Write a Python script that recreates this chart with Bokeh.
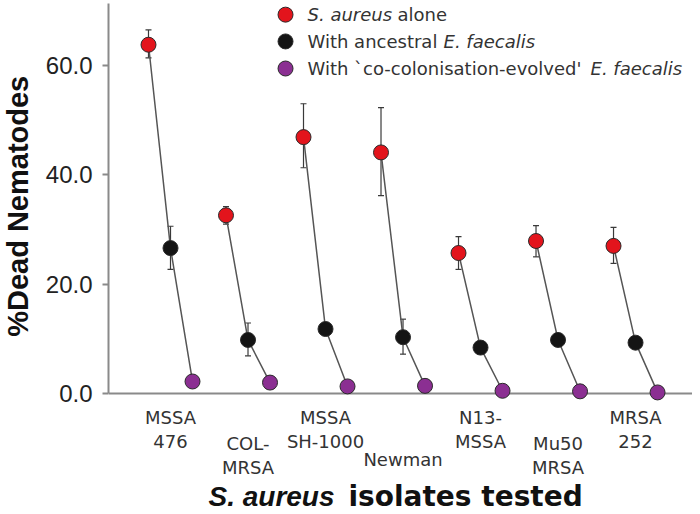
import math
from bokeh.plotting import figure
from bokeh.layouts import row
from bokeh.models import (Range1d, FixedTicker, NumeralTickFormatter, Label,
                          Whisker, TeeHead, ColumnDataSource, Span)
from bokeh.embed import file_html
from bokeh.resources import INLINE
from bokeh.core.properties import value

# ---------------- data ----------------
isolates = ["MSSA 476", "COL-MRSA", "MSSA SH-1000", "Newman",
            "N13-MSSA", "Mu50 MRSA", "MRSA 252"]
tick_labels = ["MSSA\n476", "COL-\nMRSA", "MSSA\nSH-1000", "Newman",
               "N13-\nMSSA", "Mu50\nMRSA", "MRSA\n252"]
label_tier = [0, 1, 0, 2, 0, 1, 0]

alone = [63.8, 32.6, 46.9, 44.1, 25.7, 27.9, 27.0]
alone_hi = [66.5, 34.2, 53.0, 52.3, 28.7, 30.7, 30.4]
alone_lo = [61.4, 31.0, 41.3, 36.2, 22.7, 25.0, 23.8]

ancestral = [26.6, 9.8, 11.8, 10.3, 8.4, 9.8, 9.3]
ancestral_hi = [30.6, 12.9, 12.3, 13.6, 8.8, 10.2, 9.7]
ancestral_lo = [22.7, 6.9, 11.3, 7.2, 8.0, 9.4, 8.9]

evolved = [2.2, 2.0, 1.3, 1.4, 0.5, 0.4, 0.2]
evolved_hi = [2.5, 2.3, 1.6, 1.7, 0.8, 0.7, 0.5]
evolved_lo = [1.9, 1.7, 1.0, 1.1, 0.2, 0.1, 0.0]

y_ticks = [0, 20, 40, 60]

series = [
    ("alone", alone, alone_hi, alone_lo, "#e3141c", -0.284),
    ("ancestral", ancestral, ancestral_hi, ancestral_lo, "#141414", 0.0),
    ("evolved", evolved, evolved_hi, evolved_lo, "#8b2f92", 0.284),
]

# ---------------- layout constants ----------------
H = 514
LEFT_W = 34
MAIN_W = 658
Y_TOP = 71.34
Y_BOTTOM = -22.13
PPU = 5.467          # pixels per y unit
tier_px = {0: 13, 1: 39, 2: 55}   # label top below the x-axis line, px

# ---------------- y title panel ----------------
pt = figure(width=LEFT_W, height=H, output_backend="svg", toolbar_location=None,
            x_range=Range1d(0, LEFT_W), y_range=Range1d(0, H),
            x_axis_location=None, y_axis_location=None, min_border=0)
pt.outline_line_color = None
pt.grid.grid_line_color = None
pt.add_layout(Label(x=17, y=H - 204, text="%Dead Nematodes", angle=math.pi / 2,
                    text_font="Liberation Sans", text_font_style="bold",
                    text_font_size="29px", text_color="#111111",
                    text_align="center", text_baseline="middle"))

# ---------------- main figure ----------------
p = figure(width=MAIN_W, height=H, output_backend="svg", toolbar_location=None,
           x_range=Range1d(-0.8, 6.735), y_range=Range1d(Y_BOTTOM, Y_TOP),
           x_axis_location=None,
           min_border_left=108 - LEFT_W, min_border_right=0,
           min_border_top=3, min_border_bottom=0)
p.outline_line_color = None
p.grid.grid_line_color = None
p.background_fill_color = "white"

# x-axis line at y = 0
p.add_layout(Span(location=0, dimension="width", line_color="#8a8a8a",
                  line_width=2, level="underlay"))

# connecting lines
xs, ys = [], []
for i in range(len(isolates)):
    xs.append([i + s[5] for s in series])
    ys.append([s[1][i] for s in series])
p.multi_line(xs=xs, ys=ys, line_color="#555555", line_width=1.5)

# points + error bars
for name, vals, hi, lo, col, off in series:
    src = ColumnDataSource(dict(x=[i + off for i in range(len(vals))],
                                y=vals, hi=hi, lo=lo))
    p.scatter("x", "y", source=src, size=15, fill_color=col,
              line_color="#2a2a2a", line_width=1)
    w = Whisker(source=src, base="x", upper="hi", lower="lo",
                line_color="#3a3a3a", line_width=1.2,
                upper_head=TeeHead(size=6, line_color="#3a3a3a", line_width=1.2),
                lower_head=TeeHead(size=6, line_color="#3a3a3a", line_width=1.2))
    p.add_layout(w)

# ---------------- y axis ----------------
yax = p.yaxis[0]
yax.ticker = FixedTicker(ticks=y_ticks)
yax.formatter = NumeralTickFormatter(format="0.0")
yax.bounds = (0, Y_TOP)
yax.axis_line_color = "#8a8a8a"
yax.axis_line_width = 2
yax.major_tick_line_color = "#8a8a8a"
yax.major_tick_line_width = 2
yax.major_tick_out = 6
yax.major_tick_in = 0
yax.minor_tick_line_color = None
yax.major_label_text_font = "Liberation Sans"
yax.major_label_text_font_size = "24px"
yax.major_label_text_color = "#222222"
yax.major_label_standoff = 10

# ---------------- x category labels ----------------
lab_src = ColumnDataSource(dict(
    x=list(range(len(isolates))),
    y=[-tier_px[t] / PPU for t in label_tier],
    text=tick_labels))
p.text(x="x", y="y", text="text", source=lab_src,
       text_font=value("DejaVu Sans"), text_font_size="18px",
       text_color="#333333", text_align="center", text_baseline="top",
       text_line_height=1.16)

# x-axis title (mixed italic)
title_y = -(496 - 393) / PPU
p.add_layout(Label(x=0.49, y=title_y, text="S. aureus",
                   text_font="Liberation Sans", text_font_style="bold italic",
                   text_font_size="28px", text_color="#111111",
                   text_baseline="middle", text_align="left"))
p.add_layout(Label(x=0.49, y=title_y, x_offset=140, text="isolates tested",
                   text_font="DejaVu Sans", text_font_style="bold",
                   text_font_size="28px", text_color="#111111",
                   text_baseline="middle", text_align="left"))

# ---------------- legend ----------------
leg_x = 1.484
leg_y = [69.3, 64.4, 59.45]
leg_cols = [s[4] for s in series]
p.scatter(x=[leg_x] * 3, y=leg_y, size=15, fill_color=leg_cols,
          line_color="#2a2a2a", line_width=1)
fs = "18px"
lf = "DejaVu Sans"
parts = [
    [("S. aureus", "italic", 22), ("alone", "normal", 112)],
    [("With ancestral", "normal", 22), ("E. faecalis", "italic", 158)],
    [("With `co-colonisation-evolved'", "normal", 22), ("E. faecalis", "italic", 305)],
]
for yy, row_parts in zip(leg_y, parts):
    for txt, style, xo in row_parts:
        p.add_layout(Label(x=leg_x, y=yy, x_offset=xo, text=txt, text_font=lf,
                           text_font_style=style, text_font_size=fs,
                           text_color="#333333", text_baseline="middle",
                           text_align="left"))

layout = row(pt, p, spacing=0)
open("out.html", "w").write(file_html(layout, INLINE))
